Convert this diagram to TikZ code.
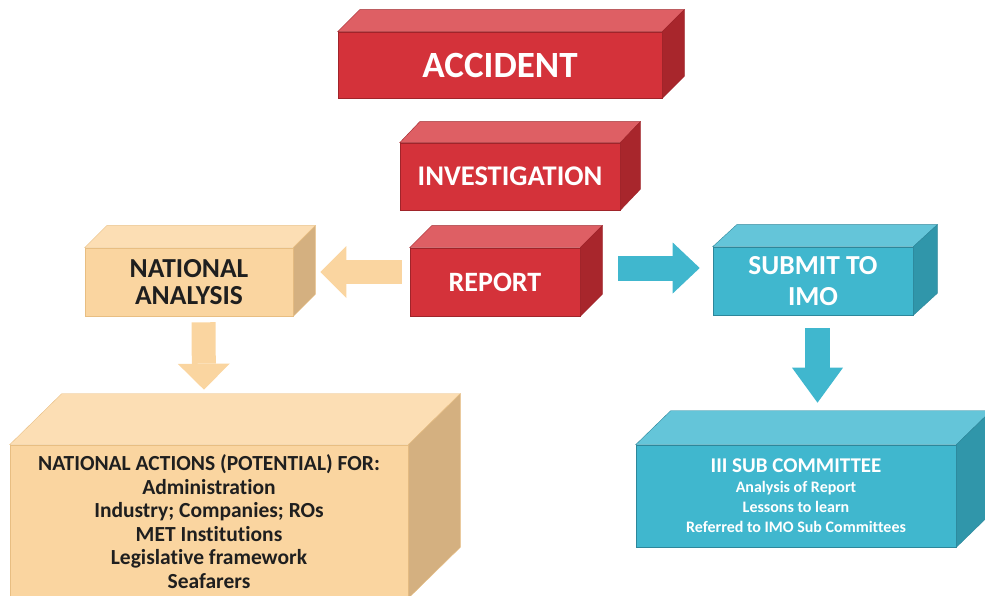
\documentclass[tikz,border=0pt]{standalone}
\usepackage{fontspec}
\setmainfont{Carlito}[Ligatures=NoCommon]
\usetikzlibrary{arrows.meta}
\definecolor{redfront}{RGB}{212,50,58}
\definecolor{redtop}{RGB}{222,95,100}
\definecolor{redside}{RGB}{168,38,44}
\definecolor{redline}{RGB}{160,36,42}
\definecolor{tanfront}{RGB}{250,213,160}
\definecolor{tantop}{RGB}{252,222,180}
\definecolor{tanside}{RGB}{212,176,128}
\definecolor{tanline}{RGB}{232,190,130}
\definecolor{bluefront}{RGB}{64,183,206}
\definecolor{bluetop}{RGB}{100,197,217}
\definecolor{blueside}{RGB}{48,150,170}
\definecolor{blueline}{RGB}{45,135,155}

\begin{document}
\begin{tikzpicture}[x=1pt,y=-1pt,
  redbox/.style={rectangle,draw=redline,fill=redfront,text=white,line width=0.6pt,inner sep=0pt},
  tanbox/.style={rectangle,draw=tanline,fill=tanfront,text=black!88,line width=0.6pt,inner sep=0pt,align=center},
  bluebox/.style={rectangle,draw=blueline,fill=bluefront,text=white,line width=0.6pt,inner sep=0pt,align=center},
  tanarr/.style={draw=tanfront,line width=24pt,-{Triangle[width=52pt,length=26pt,line width=0pt 0]}},
  bluearr/.style={draw=bluefront,line width=25pt,-{Triangle[width=51pt,length=#1,line width=0pt 0]}}]
\useasboundingbox (0,0) rectangle (985,596);

% front faces
\node[redbox,minimum width=324,minimum height=66,font=\bfseries\fontsize{37}{37}\selectfont] (acc) at (500,65) {ACCIDENT};
\node[redbox,minimum width=220,minimum height=67,font=\bfseries\fontsize{28.5}{28.5}\selectfont] (inv) at (510,176.5) {INVESTIGATION};
\node[redbox,minimum width=170,minimum height=68,font=\bfseries\fontsize{28}{28}\selectfont] (rep) at (495,282) {REPORT};
\node[tanbox,minimum width=208,minimum height=68,font=\bfseries\fontsize{27.5}{27}\selectfont] (nat) at (189,282) {NATIONAL\\ANALYSIS};
\node[bluebox,minimum width=200,minimum height=68,font=\bfseries\fontsize{27.5}{31}\selectfont] (sub) at (813,281) {SUBMIT TO\\IMO};
\node[tanbox,minimum width=398,minimum height=153,font=\bfseries\fontsize{21.5}{23.5}\selectfont] (act) at (209,521.5)
  {NATIONAL ACTIONS (POTENTIAL) FOR:\\Administration\\Industry; Companies; ROs\\MET Institutions\\Legislative framework\\Seafarers};
\node[bluebox,minimum width=320,minimum height=102,font=\bfseries\fontsize{16}{20}\selectfont] (iii) at (796,496)
  {{\fontsize{21}{21}\selectfont III SUB COMMITTEE}\\Analysis of Report\\Lessons to learn\\Referred to IMO Sub Committees};

% top and side faces
\filldraw[fill=redtop,draw=redline] (acc.north west) -- ++(22,-22) -- ([shift={(22,-22)}]acc.north east) -- (acc.north east) -- cycle;
\filldraw[fill=redside,draw=redline] (acc.north east) -- ++(22,-22) -- ([shift={(22,-22)}]acc.south east) -- (acc.south east) -- cycle;
\filldraw[fill=redtop,draw=redline] (inv.north west) -- ++(20,-21) -- ([shift={(20,-21)}]inv.north east) -- (inv.north east) -- cycle;
\filldraw[fill=redside,draw=redline] (inv.north east) -- ++(20,-21) -- ([shift={(20,-21)}]inv.south east) -- (inv.south east) -- cycle;
\filldraw[fill=redtop,draw=redline] (rep.north west) -- ++(22,-22) -- ([shift={(22,-22)}]rep.north east) -- (rep.north east) -- cycle;
\filldraw[fill=redside,draw=redline] (rep.north east) -- ++(22,-22) -- ([shift={(22,-22)}]rep.south east) -- (rep.south east) -- cycle;
\filldraw[fill=tantop,draw=tanline] (nat.north west) -- ++(22,-22) -- ([shift={(22,-22)}]nat.north east) -- (nat.north east) -- cycle;
\filldraw[fill=tanside,draw=tanline] (nat.north east) -- ++(22,-22) -- ([shift={(22,-22)}]nat.south east) -- (nat.south east) -- cycle;
\filldraw[fill=bluetop,draw=blueline] (sub.north west) -- ++(24,-22) -- ([shift={(24,-22)}]sub.north east) -- (sub.north east) -- cycle;
\filldraw[fill=blueside,draw=blueline] (sub.north east) -- ++(24,-22) -- ([shift={(24,-22)}]sub.south east) -- (sub.south east) -- cycle;
\filldraw[fill=tantop,draw=tanline] (act.north west) -- ++(52,-51) -- ([shift={(52,-51)}]act.north east) -- (act.north east) -- cycle;
\filldraw[fill=tanside,draw=tanline] (act.north east) -- ++(52,-51) -- ([shift={(52,-51)}]act.south east) -- (act.south east) -- cycle;
\filldraw[fill=bluetop,draw=blueline] (iii.north west) -- ++(35,-34) -- ([shift={(35,-34)}]iii.north east) -- (iii.north east) -- cycle;
\filldraw[fill=blueside,draw=blueline] (iii.north east) -- ++(35,-34) -- ([shift={(35,-34)}]iii.south east) -- (iii.south east) -- cycle;

% block arrows
\draw[tanarr] ([shift={(-8,-10)}]rep.west) -- ([shift={(27,-10)}]nat.east);
\draw[bluearr=27pt] ([shift={(38,-14)}]rep.east) -- ([shift={(-13,-13)}]sub.west);
\draw[tanarr] ([shift={(14.5,6)}]nat.south) -- ([shift={(-5,-55)}]act.north);
\draw[bluearr=35pt] ([shift={(4.5,13)}]sub.south) -- ([shift={(21.5,-42)}]iii.north);
\end{tikzpicture}
\end{document}
